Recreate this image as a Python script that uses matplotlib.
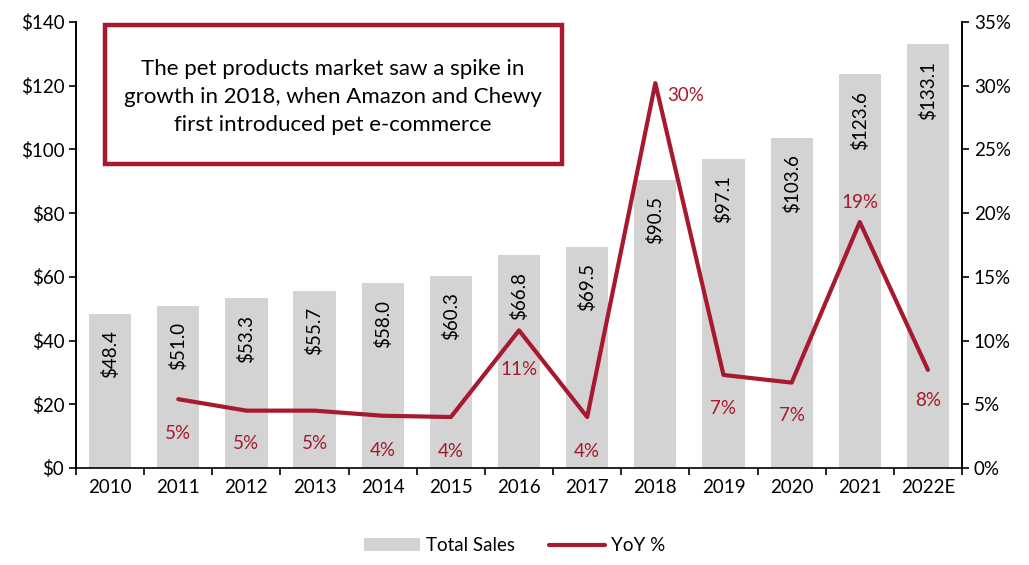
import matplotlib.pyplot as plt
import matplotlib.ticker as mticker
from matplotlib.patches import Rectangle
import numpy as np

plt.rcParams['font.family'] = ['Lato', 'DejaVu Sans']

# Chart data
years = ["2010", "2011", "2012", "2013", "2014", "2015", "2016",
         "2017", "2018", "2019", "2020", "2021", "2022E"]
sales = [48.4, 51.0, 53.3, 55.7, 58.0, 60.3, 66.8, 69.5, 90.5, 97.1, 103.6, 123.6, 133.1]
yoy_years = years[1:]
yoy = [5.4, 4.5, 4.5, 4.1, 4.0, 10.8, 4.0, 30.2, 7.3, 6.7, 19.3, 7.7]
yoy_labels = ["5%", "5%", "5%", "4%", "4%", "11%", "4%", "30%", "7%", "7%", "19%", "8%"]

red = "#A6192E"
grey = "#D3D3D3"

fig = plt.figure(figsize=(10.29, 5.65), dpi=100)
ax = fig.add_axes([0.0739, 0.1717, 0.8610, 0.7894])
ax2 = ax.twinx()

x = np.arange(len(years))
bars = ax.bar(x, sales, width=0.62, color=grey, label="Total Sales", zorder=1)
for xi, v in zip(x, sales):
    ax.annotate(f"${v:.1f}", (xi, v), xytext=(0, -12), textcoords="offset points",
                rotation=90, ha="center", va="top", fontsize=13.5, color="black")

xl = x[1:]
line, = ax2.plot(xl, yoy, color=red, lw=3, label="YoY %", solid_capstyle="round", zorder=3)

# label offsets (points) for the YoY values
offs = [(0, -25), (0, -24), (0, -24), (0, -25), (0, -25), (0, -28),
        (0, -25), (22, -9), (0, -24), (0, -24), (0, 14), (0, -22)]
for xi, v, lab, o in zip(xl, yoy, yoy_labels, offs):
    ax2.annotate(lab, (xi, v), xytext=o, textcoords="offset points",
                 ha="center", va="center", fontsize=13.5, color=red)

ax.set_xlim(-0.5, len(years) - 0.5)
ax.set_ylim(0, 140)
ax2.set_ylim(0, 35)
ax.set_yticks(np.arange(0, 141, 20))
ax.yaxis.set_major_formatter(mticker.FuncFormatter(lambda v, p: f"${v:.0f}"))
ax2.set_yticks(np.arange(0, 36, 5))
ax2.yaxis.set_major_formatter(mticker.FuncFormatter(lambda v, p: f"{v:.0f}%"))

ax.set_xticks(x)
ax.set_xticklabels(years)
ax.set_xticks(np.arange(-0.5, len(years), 1), minor=True)
ax.tick_params(axis="x", which="major", length=0, labelsize=13.5, pad=8)
ax.tick_params(axis="x", which="minor", length=5, width=1.2, direction="out")
ax.tick_params(axis="y", length=5, width=1.2, direction="out", labelsize=13.5)
ax2.tick_params(axis="y", length=5, width=1.2, direction="out", labelsize=13.5)

for a in (ax, ax2):
    a.spines["top"].set_visible(False)
    for s in ("left", "right", "bottom"):
        a.spines[s].set_linewidth(1.2)
ax2.spines["bottom"].set_visible(False)

# annotation box
fig.patches.append(Rectangle((0.102, 0.7097), 0.444, 0.246, transform=fig.transFigure,
                             facecolor="white", edgecolor=red, linewidth=3.2, zorder=5))
fig.text(0.3236, 0.8283,
         "The pet products market saw a spike in\ngrowth in 2018, when Amazon and Chewy\nfirst introduced pet e-commerce",
         ha="center", va="center", fontsize=16, linespacing=1.5, zorder=6)

fig.legend([bars, line], ["Total Sales", "YoY %"], loc="center", bbox_to_anchor=(0.5, 0.034),
           ncol=2, frameon=False, fontsize=13.5, handlelength=3.0, columnspacing=1.8, handletextpad=0.3)

fig.savefig("out.png", dpi=100)
